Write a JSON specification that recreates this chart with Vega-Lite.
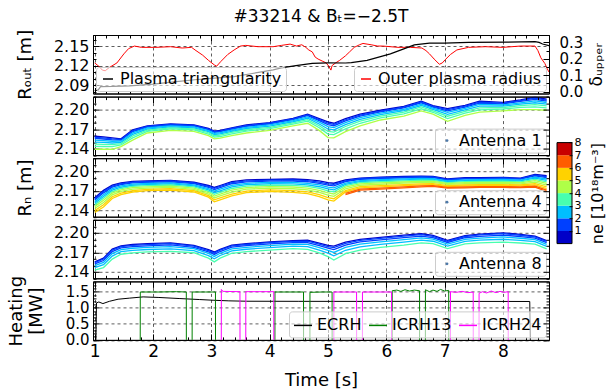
{
"$schema": "https://vega.github.io/schema/vega-lite/v6.json",
"padding": {"left": 6, "top": 7, "right": 0, "bottom": 0},
"background": "white",
"config": {
  "font": "DejaVu Sans",
  "view": {"stroke": "black", "strokeWidth": 1},
  "axis": {"labelFont": "DejaVu Sans", "titleFont": "DejaVu Sans", "labelFontSize": 16, "titleFontSize": 18, "titleFontWeight": "normal", "labelColor": "black", "titleColor": "black", "tickColor": "black", "domainColor": "black", "gridColor": "black", "gridDash": [3, 3], "gridWidth": 0.8, "labelOverlap": false, "labelFlush": false, "tickWidth": 1, "domainWidth": 1},
  "legend": {"labelFont": "DejaVu Sans", "labelFontSize": 16, "labelColor": "black", "padding": 4, "offset": 3, "fillColor": "rgba(255,255,255,0.6)", "strokeColor": "#cccccc", "cornerRadius": 3, "labelLimit": 400, "symbolStrokeWidth": 1.5, "symbolSize": 100}
},
"datasets": {
  "rout": [
    {"t":1.0,"r":2.124},{"t":1.04,"r":2.121},{"t":1.08,"r":2.118},{"t":1.13,"r":2.113},{"t":1.18,"r":2.112},{"t":1.25,"r":2.117},{"t":1.38,"r":2.124},{"t":1.5,"r":2.138},{"t":1.58,"r":2.146},{"t":1.68,"r":2.15},{"t":1.8,"r":2.148},{"t":2.05,"r":2.148},{"t":2.3,"r":2.149},{"t":2.5,"r":2.147},{"t":2.66,"r":2.148},{"t":2.72,"r":2.144},{"t":2.85,"r":2.136},{"t":2.95,"r":2.128},{"t":3.05,"r":2.121},{"t":3.09,"r":2.119},{"t":3.16,"r":2.126},{"t":3.28,"r":2.137},{"t":3.39,"r":2.144},{"t":3.5,"r":2.15},{"t":3.59,"r":2.151},{"t":3.8,"r":2.149},{"t":4.06,"r":2.149},{"t":4.2,"r":2.151},{"t":4.35,"r":2.153},{"t":4.46,"r":2.15},{"t":4.55,"r":2.152},{"t":4.62,"r":2.148},{"t":4.67,"r":2.144},{"t":4.73,"r":2.141},{"t":4.78,"r":2.133},{"t":4.83,"r":2.13},{"t":4.9,"r":2.127},{"t":4.97,"r":2.124},{"t":5.02,"r":2.118},{"t":5.05,"r":2.113},{"t":5.07,"r":2.12},{"t":5.13,"r":2.124},{"t":5.2,"r":2.128},{"t":5.3,"r":2.135},{"t":5.37,"r":2.141},{"t":5.45,"r":2.148},{"t":5.54,"r":2.152},{"t":5.6,"r":2.154},{"t":5.74,"r":2.152},{"t":5.85,"r":2.15},{"t":5.94,"r":2.15},{"t":6.2,"r":2.148},{"t":6.41,"r":2.148},{"t":6.61,"r":2.147},{"t":6.68,"r":2.143},{"t":6.74,"r":2.138},{"t":6.82,"r":2.13},{"t":6.91,"r":2.122},{"t":6.96,"r":2.124},{"t":7.01,"r":2.129},{"t":7.1,"r":2.137},{"t":7.21,"r":2.144},{"t":7.41,"r":2.148},{"t":7.7,"r":2.149},{"t":8.0,"r":2.148},{"t":8.3,"r":2.15},{"t":8.55,"r":2.15},{"t":8.6,"r":2.143},{"t":8.65,"r":2.132},{"t":8.72,"r":2.123},{"t":8.76,"r":2.115},{"t":8.79,"r":2.11}
  ],
  "delta": [
    {"t":1.0,"d":0.005},{"t":1.06,"d":0.01},{"t":1.1,"d":0.03},{"t":1.3,"d":0.031},{"t":1.6,"d":0.035},{"t":2.0,"d":0.045},{"t":2.4,"d":0.06},{"t":2.72,"d":0.072},{"t":3.0,"d":0.08},{"t":3.39,"d":0.091},{"t":3.7,"d":0.11},{"t":4.06,"d":0.132},{"t":4.2,"d":0.144},{"t":4.45,"d":0.158},{"t":4.73,"d":0.172},{"t":5.0,"d":0.175},{"t":5.3,"d":0.174},{"t":5.4,"d":0.176},{"t":5.67,"d":0.19},{"t":6.07,"d":0.23},{"t":6.3,"d":0.26},{"t":6.48,"d":0.285},{"t":6.74,"d":0.295},{"t":7.0,"d":0.296},{"t":7.41,"d":0.3},{"t":8.08,"d":0.301},{"t":8.55,"d":0.305},{"t":8.62,"d":0.3},{"t":8.68,"d":0.29},{"t":8.79,"d":0.28}
  ],
  "a1": [
    {"t":1.0,"n05":2.159,"n10":2.1574,"n15":2.1556,"n20":2.153,"n25":2.15,"n30":2.147,"n35":2.1434,"n40":2.139},
    {"t":1.15,"n05":2.158,"n10":2.1565,"n15":2.1548,"n20":2.1523,"n25":2.1495,"n30":2.1466,"n35":2.1432,"n40":2.139},
    {"t":1.3,"n05":2.1565,"n10":2.1551,"n15":2.1535,"n20":2.1513,"n25":2.1486,"n30":2.146,"n35":2.1429,"n40":2.139},
    {"t":1.45,"n05":2.155,"n10":2.154,"n15":2.153,"n20":2.1514,"n25":2.1496,"n30":2.1478,"n35":2.1456,"n40":2.143},
    {"t":1.65,"n05":2.169,"n10":2.1677,"n15":2.1663,"n20":2.1642,"n25":2.1618,"n30":2.1594,"n35":2.1565,"n40":2.153},
    {"t":1.9,"n05":2.175,"n10":2.1741,"n15":2.1731,"n20":2.1717,"n25":2.17,"n30":2.1684,"n35":2.1664,"n40":2.164},
    {"t":2.3,"n05":2.178,"n10":2.1772,"n15":2.1763,"n20":2.175,"n25":2.1735,"n30":2.172,"n35":2.1702,"n40":2.168},
    {"t":2.7,"n05":2.1765,"n10":2.1757,"n15":2.1748,"n20":2.1735,"n25":2.172,"n30":2.1705,"n35":2.1687,"n40":2.1665},
    {"t":2.95,"n05":2.171,"n10":2.1701,"n15":2.1691,"n20":2.1677,"n25":2.166,"n30":2.1644,"n35":2.1624,"n40":2.16},
    {"t":3.05,"n05":2.167,"n10":2.166,"n15":2.165,"n20":2.1634,"n25":2.1616,"n30":2.1598,"n35":2.1576,"n40":2.155},
    {"t":3.15,"n05":2.168,"n10":2.167,"n15":2.166,"n20":2.1644,"n25":2.1626,"n30":2.1608,"n35":2.1586,"n40":2.156},
    {"t":3.35,"n05":2.172,"n10":2.171,"n15":2.17,"n20":2.1684,"n25":2.1666,"n30":2.1648,"n35":2.1626,"n40":2.16},
    {"t":3.6,"n05":2.1765,"n10":2.1755,"n15":2.1744,"n20":2.1728,"n25":2.1709,"n30":2.169,"n35":2.1668,"n40":2.164},
    {"t":4.0,"n05":2.18,"n10":2.179,"n15":2.178,"n20":2.1764,"n25":2.1746,"n30":2.1728,"n35":2.1706,"n40":2.168},
    {"t":4.4,"n05":2.1865,"n10":2.1856,"n15":2.1845,"n20":2.1831,"n25":2.1813,"n30":2.1796,"n35":2.1775,"n40":2.175},
    {"t":4.65,"n05":2.193,"n10":2.1919,"n15":2.1906,"n20":2.1888,"n25":2.1867,"n30":2.1846,"n35":2.1821,"n40":2.179},
    {"t":4.85,"n05":2.186,"n10":2.1846,"n15":2.1829,"n20":2.1806,"n25":2.1779,"n30":2.1752,"n35":2.172,"n40":2.168},
    {"t":5.0,"n05":2.181,"n10":2.1791,"n15":2.1769,"n20":2.1738,"n25":2.1702,"n30":2.1666,"n35":2.1623,"n40":2.157},
    {"t":5.1,"n05":2.179,"n10":2.1772,"n15":2.1752,"n20":2.1723,"n25":2.1689,"n30":2.1655,"n35":2.1615,"n40":2.1565},
    {"t":5.3,"n05":2.186,"n10":2.1844,"n15":2.1826,"n20":2.18,"n25":2.177,"n30":2.174,"n35":2.1704,"n40":2.166},
    {"t":5.55,"n05":2.193,"n10":2.1916,"n15":2.1899,"n20":2.1876,"n25":2.1849,"n30":2.1822,"n35":2.179,"n40":2.175},
    {"t":5.9,"n05":2.199,"n10":2.1978,"n15":2.1965,"n20":2.1945,"n25":2.1923,"n30":2.19,"n35":2.1873,"n40":2.184},
    {"t":6.3,"n05":2.205,"n10":2.2038,"n15":2.2025,"n20":2.2005,"n25":2.1983,"n30":2.196,"n35":2.1933,"n40":2.19},
    {"t":6.6,"n05":2.213,"n10":2.2118,"n15":2.2105,"n20":2.2085,"n25":2.2063,"n30":2.204,"n35":2.2013,"n40":2.198},
    {"t":6.8,"n05":2.206,"n10":2.205,"n15":2.2038,"n20":2.2021,"n25":2.2002,"n30":2.1982,"n35":2.1959,"n40":2.193},
    {"t":7.05,"n05":2.2015,"n10":2.1999,"n15":2.1982,"n20":2.1957,"n25":2.1927,"n30":2.1898,"n35":2.1863,"n40":2.182},
    {"t":7.35,"n05":2.2065,"n10":2.2053,"n15":2.2039,"n20":2.2019,"n25":2.1995,"n30":2.1972,"n35":2.1944,"n40":2.191},
    {"t":7.6,"n05":2.213,"n10":2.2116,"n15":2.2101,"n20":2.2079,"n25":2.2054,"n30":2.2028,"n35":2.1997,"n40":2.196},
    {"t":8.0,"n05":2.211,"n10":2.21,"n15":2.2088,"n20":2.2071,"n25":2.2052,"n30":2.2032,"n35":2.2009,"n40":2.198},
    {"t":8.3,"n05":2.215,"n10":2.2138,"n15":2.2125,"n20":2.2105,"n25":2.2083,"n30":2.206,"n35":2.2033,"n40":2.2},
    {"t":8.55,"n05":2.219,"n10":2.2175,"n15":2.2158,"n20":2.2133,"n25":2.2105,"n30":2.2076,"n35":2.2042,"n40":2.2},
    {"t":8.75,"n05":2.216,"n10":2.2146,"n15":2.2131,"n20":2.2109,"n25":2.2084,"n30":2.2058,"n35":2.2027,"n40":2.199}
  ],
  "a4": [
    {"t":1.0,"n05":2.159,"n10":2.1574,"n15":2.1556,"n22":2.1532,"n28":2.1507,"n34":2.1482,"n40":2.1455,"n46":2.1426,"n52":2.1394,"n57":2.1365},
    {"t":1.15,"n05":2.1705,"n10":2.1687,"n15":2.1667,"n22":2.1639,"n28":2.1611,"n34":2.1583,"n40":2.1552,"n46":2.1519,"n52":2.1483,"n57":2.145},
    {"t":1.3,"n05":2.1785,"n10":2.1771,"n15":2.1754,"n22":2.1732,"n28":2.1709,"n34":2.1687,"n40":2.1662,"n46":2.1635,"n52":2.1607,"n57":2.158},
    {"t":1.45,"n05":2.182,"n10":2.1807,"n15":2.1793,"n22":2.1773,"n28":2.1753,"n34":2.1734,"n40":2.1712,"n46":2.1689,"n52":2.1663,"n57":2.164},
    {"t":1.65,"n05":2.1845,"n10":2.1833,"n15":2.182,"n22":2.1802,"n28":2.1784,"n34":2.1766,"n40":2.1746,"n46":2.1725,"n52":2.1701,"n57":2.168},
    {"t":1.9,"n05":2.185,"n10":2.184,"n15":2.1828,"n22":2.1811,"n28":2.1795,"n34":2.1778,"n40":2.176,"n46":2.174,"n52":2.172,"n57":2.17},
    {"t":2.3,"n05":2.186,"n10":2.185,"n15":2.1838,"n22":2.1821,"n28":2.1805,"n34":2.1788,"n40":2.177,"n46":2.175,"n52":2.173,"n57":2.171},
    {"t":2.7,"n05":2.183,"n10":2.182,"n15":2.1808,"n22":2.1791,"n28":2.1775,"n34":2.1758,"n40":2.174,"n46":2.172,"n52":2.17,"n57":2.168},
    {"t":2.95,"n05":2.178,"n10":2.1767,"n15":2.1753,"n22":2.1733,"n28":2.1713,"n34":2.1694,"n40":2.1672,"n46":2.1649,"n52":2.1623,"n57":2.16},
    {"t":3.05,"n05":2.175,"n10":2.1735,"n15":2.1717,"n22":2.1693,"n28":2.1669,"n34":2.1644,"n40":2.1618,"n46":2.1589,"n52":2.1559,"n57":2.153},
    {"t":3.15,"n05":2.178,"n10":2.1765,"n15":2.1747,"n22":2.1723,"n28":2.1699,"n34":2.1674,"n40":2.1648,"n46":2.1619,"n52":2.1589,"n57":2.156},
    {"t":3.35,"n05":2.184,"n10":2.1825,"n15":2.1807,"n22":2.1783,"n28":2.1759,"n34":2.1734,"n40":2.1708,"n46":2.1679,"n52":2.1649,"n57":2.162},
    {"t":3.6,"n05":2.1865,"n10":2.1851,"n15":2.1836,"n22":2.1814,"n28":2.1793,"n34":2.1771,"n40":2.1748,"n46":2.1723,"n52":2.1695,"n57":2.167},
    {"t":4.0,"n05":2.1875,"n10":2.1862,"n15":2.1847,"n22":2.1827,"n28":2.1807,"n34":2.1786,"n40":2.1764,"n46":2.174,"n52":2.1714,"n57":2.169},
    {"t":4.4,"n05":2.188,"n10":2.1866,"n15":2.1849,"n22":2.1827,"n28":2.1804,"n34":2.1782,"n40":2.1757,"n46":2.173,"n52":2.1702,"n57":2.1675},
    {"t":4.65,"n05":2.187,"n10":2.1855,"n15":2.1838,"n22":2.1814,"n28":2.179,"n34":2.1767,"n40":2.1741,"n46":2.1713,"n52":2.1683,"n57":2.1655},
    {"t":4.85,"n05":2.185,"n10":2.1833,"n15":2.1814,"n22":2.1788,"n28":2.1761,"n34":2.1735,"n40":2.1706,"n46":2.1675,"n52":2.1641,"n57":2.161},
    {"t":5.0,"n05":2.1825,"n10":2.1806,"n15":2.1785,"n22":2.1756,"n28":2.1727,"n34":2.1698,"n40":2.1666,"n46":2.1632,"n52":2.1594,"n57":2.156},
    {"t":5.1,"n05":2.1815,"n10":2.1796,"n15":2.1774,"n22":2.1744,"n28":2.1713,"n34":2.1683,"n40":2.165,"n46":2.1614,"n52":2.1576,"n57":2.154},
    {"t":5.3,"n05":2.1865,"n10":2.1852,"n15":2.1838,"n22":2.1818,"n28":2.1798,"n34":2.1777,"n40":2.1755,"n46":2.173,"n52":2.1703,"n57":2.1681,"n62":2.1658,"n66":2.164},
    {"t":5.55,"n05":2.1895,"n10":2.1884,"n15":2.1873,"n22":2.1856,"n28":2.184,"n34":2.1823,"n40":2.1804,"n46":2.1784,"n52":2.1762,"n57":2.1743,"n62":2.1725,"n66":2.171},
    {"t":5.9,"n05":2.191,"n10":2.1899,"n15":2.1888,"n22":2.1871,"n28":2.1855,"n34":2.1838,"n40":2.1819,"n46":2.1799,"n52":2.1777,"n57":2.1758,"n62":2.174,"n66":2.1725},
    {"t":6.3,"n05":2.192,"n10":2.191,"n15":2.1899,"n22":2.1883,"n28":2.1868,"n34":2.1852,"n40":2.1834,"n46":2.1815,"n52":2.1794,"n57":2.1777,"n62":2.1759,"n66":2.1745},
    {"t":6.6,"n05":2.1925,"n10":2.1915,"n15":2.1905,"n22":2.189,"n28":2.1876,"n34":2.1861,"n40":2.1844,"n46":2.1826,"n52":2.1806,"n57":2.179,"n62":2.1773,"n66":2.176},
    {"t":6.8,"n05":2.192,"n10":2.1911,"n15":2.1901,"n22":2.1887,"n28":2.1874,"n34":2.186,"n40":2.1844,"n46":2.1827,"n52":2.1808,"n57":2.1793,"n62":2.1777,"n66":2.1765},
    {"t":7.05,"n05":2.188,"n10":2.1872,"n15":2.1863,"n22":2.1851,"n28":2.1838,"n34":2.1825,"n40":2.1811,"n46":2.1796,"n52":2.1779,"n57":2.1765,"n62":2.1751,"n66":2.174},
    {"t":7.35,"n05":2.19,"n10":2.1891,"n15":2.1881,"n22":2.1867,"n28":2.1854,"n34":2.184,"n40":2.1824,"n46":2.1807,"n52":2.1788,"n57":2.1773,"n62":2.1757,"n66":2.1745},
    {"t":7.6,"n05":2.19,"n10":2.1891,"n15":2.1882,"n22":2.1869,"n28":2.1855,"n34":2.1842,"n40":2.1827,"n46":2.181,"n52":2.1792,"n57":2.1777,"n62":2.1762,"n66":2.175},
    {"t":8.0,"n05":2.1905,"n10":2.1896,"n15":2.1886,"n22":2.1873,"n28":2.1859,"n34":2.1845,"n40":2.1829,"n46":2.1812,"n52":2.1793,"n57":2.1778,"n62":2.1762,"n66":2.175},
    {"t":8.3,"n05":2.1895,"n10":2.1886,"n15":2.1877,"n22":2.1864,"n28":2.185,"n34":2.1837,"n40":2.1822,"n46":2.1806,"n52":2.1788,"n57":2.1774,"n62":2.176,"n66":2.1748},
    {"t":8.55,"n05":2.195,"n10":2.1938,"n15":2.1927,"n22":2.1909,"n28":2.1892,"n34":2.1874,"n40":2.1854,"n46":2.1833,"n52":2.181,"n57":2.179,"n62":2.1771,"n66":2.1755},
    {"t":8.75,"n05":2.193,"n10":2.1916,"n15":2.1901,"n22":2.188,"n28":2.1858,"n34":2.1836,"n40":2.1812,"n46":2.1786,"n52":2.1757,"n57":2.1733,"n62":2.1709,"n66":2.169}
  ],
  "a8": [
    {"t":1.0,"n05":2.1553,"n10":2.154,"n15":2.1521,"n20":2.1495,"n25":2.1463,"n32":2.1425},
    {"t":1.15,"n05":2.161,"n10":2.1596,"n15":2.1574,"n20":2.1545,"n25":2.1509,"n32":2.1465},
    {"t":1.3,"n05":2.175,"n10":2.1735,"n15":2.1711,"n20":2.168,"n25":2.1642,"n32":2.1595},
    {"t":1.45,"n05":2.18,"n10":2.1787,"n15":2.1768,"n20":2.1742,"n25":2.1709,"n32":2.167},
    {"t":1.65,"n05":2.182,"n10":2.1807,"n15":2.1788,"n20":2.1762,"n25":2.1729,"n32":2.169},
    {"t":1.9,"n05":2.1832,"n10":2.1819,"n15":2.18,"n20":2.1775,"n25":2.1743,"n32":2.1705},
    {"t":2.3,"n05":2.1845,"n10":2.1832,"n15":2.1813,"n20":2.1787,"n25":2.1754,"n32":2.1715},
    {"t":2.7,"n05":2.1805,"n10":2.1794,"n15":2.1777,"n20":2.1755,"n25":2.1727,"n32":2.1693},
    {"t":2.95,"n05":2.174,"n10":2.1727,"n15":2.1708,"n20":2.1682,"n25":2.1649,"n32":2.161},
    {"t":3.05,"n05":2.1705,"n10":2.169,"n15":2.1667,"n20":2.1637,"n25":2.1599,"n32":2.1553},
    {"t":3.15,"n05":2.1746,"n10":2.1732,"n15":2.1712,"n20":2.1685,"n25":2.1651,"n32":2.161},
    {"t":3.35,"n05":2.181,"n10":2.1798,"n15":2.1779,"n20":2.1754,"n25":2.1723,"n32":2.1685},
    {"t":3.6,"n05":2.1832,"n10":2.182,"n15":2.1802,"n20":2.1777,"n25":2.1747,"n32":2.171},
    {"t":4.0,"n05":2.186,"n10":2.1848,"n15":2.1829,"n20":2.1804,"n25":2.1773,"n32":2.1735},
    {"t":4.4,"n05":2.188,"n10":2.1868,"n15":2.185,"n20":2.1825,"n25":2.1795,"n32":2.1758},
    {"t":4.65,"n05":2.1885,"n10":2.1871,"n15":2.185,"n20":2.1822,"n25":2.1787,"n32":2.1745},
    {"t":4.85,"n05":2.184,"n10":2.1825,"n15":2.1803,"n20":2.1773,"n25":2.1735,"n32":2.169},
    {"t":5.0,"n05":2.1805,"n10":2.1788,"n15":2.1763,"n20":2.1729,"n25":2.1686,"n32":2.1635},
    {"t":5.1,"n05":2.1795,"n10":2.1774,"n15":2.1741,"n20":2.1698,"n25":2.1645,"n32":2.158},
    {"t":5.3,"n05":2.1855,"n10":2.1837,"n15":2.1811,"n20":2.1775,"n25":2.1731,"n32":2.1678},
    {"t":5.55,"n05":2.19,"n10":2.1884,"n15":2.1859,"n20":2.1826,"n25":2.1785,"n32":2.1735},
    {"t":5.9,"n05":2.193,"n10":2.1915,"n15":2.1891,"n20":2.186,"n25":2.1822,"n32":2.1775},
    {"t":6.3,"n05":2.1965,"n10":2.195,"n15":2.1926,"n20":2.1895,"n25":2.1857,"n32":2.181},
    {"t":6.6,"n05":2.1985,"n10":2.1971,"n15":2.195,"n20":2.1922,"n25":2.1887,"n32":2.1845},
    {"t":6.8,"n05":2.1959,"n10":2.1946,"n15":2.1927,"n20":2.1902,"n25":2.187,"n32":2.1832},
    {"t":7.05,"n05":2.1883,"n10":2.187,"n15":2.1851,"n20":2.1826,"n25":2.1794,"n32":2.1756},
    {"t":7.35,"n05":2.1955,"n10":2.1943,"n15":2.1924,"n20":2.1899,"n25":2.1868,"n32":2.183},
    {"t":7.6,"n05":2.198,"n10":2.1967,"n15":2.1946,"n20":2.1919,"n25":2.1886,"n32":2.1845},
    {"t":8.0,"n05":2.2,"n10":2.1986,"n15":2.1965,"n20":2.1936,"n25":2.1901,"n32":2.1858},
    {"t":8.3,"n05":2.1975,"n10":2.1962,"n15":2.1942,"n20":2.1916,"n25":2.1883,"n32":2.1843},
    {"t":8.55,"n05":2.195,"n10":2.1938,"n15":2.1919,"n20":2.1894,"n25":2.1863,"n32":2.1825},
    {"t":8.75,"n05":2.188,"n10":2.1867,"n15":2.1848,"n20":2.1822,"n25":2.179,"n32":2.1752}
  ],
  "heat": [
    {"s":"ECRH","g":0,"t":1.02,"p":0},{"s":"ECRH","g":0,"t":1.03,"p":1.15},{"s":"ECRH","g":0,"t":1.07,"p":1.18},{"s":"ECRH","g":0,"t":1.14,"p":1.13},{"s":"ECRH","g":0,"t":1.25,"p":1.2},{"s":"ECRH","g":0,"t":1.4,"p":1.266},{"s":"ECRH","g":0,"t":1.6,"p":1.3},{"s":"ECRH","g":0,"t":1.83,"p":1.338},{"s":"ECRH","g":0,"t":2.1,"p":1.32},{"s":"ECRH","g":0,"t":2.46,"p":1.286},{"s":"ECRH","g":0,"t":2.8,"p":1.255},{"s":"ECRH","g":0,"t":3.03,"p":1.234},{"s":"ECRH","g":0,"t":3.3,"p":1.215},{"s":"ECRH","g":0,"t":3.6,"p":1.203},{"s":"ECRH","g":0,"t":4.5,"p":1.2},{"s":"ECRH","g":0,"t":5.5,"p":1.198},{"s":"ECRH","g":0,"t":6.5,"p":1.2},{"s":"ECRH","g":0,"t":7.5,"p":1.198},{"s":"ECRH","g":0,"t":8.46,"p":1.195},{"s":"ECRH","g":0,"t":8.47,"p":0},
    {"s":"ICRH13","g":1,"t":1.78,"p":0},{"s":"ICRH13","g":1,"t":1.781,"p":1.49},{"s":"ICRH13","g":1,"t":2.1,"p":1.49},{"s":"ICRH13","g":1,"t":2.4,"p":1.5},{"s":"ICRH13","g":1,"t":2.57,"p":1.49},{"s":"ICRH13","g":1,"t":2.571,"p":0},
    {"s":"ICRH13","g":2,"t":2.67,"p":0},{"s":"ICRH13","g":2,"t":2.671,"p":1.49},{"s":"ICRH13","g":2,"t":2.9,"p":1.49},{"s":"ICRH13","g":2,"t":3.07,"p":1.49},{"s":"ICRH13","g":2,"t":3.071,"p":0},
    {"s":"ICRH13","g":3,"t":4.09,"p":0},{"s":"ICRH13","g":3,"t":4.091,"p":1.49},{"s":"ICRH13","g":3,"t":4.3,"p":1.49},{"s":"ICRH13","g":3,"t":4.58,"p":1.49},{"s":"ICRH13","g":3,"t":4.581,"p":0},
    {"s":"ICRH13","g":4,"t":4.69,"p":0},{"s":"ICRH13","g":4,"t":4.691,"p":1.48},{"s":"ICRH13","g":4,"t":4.9,"p":1.49},{"s":"ICRH13","g":4,"t":5.07,"p":1.49},{"s":"ICRH13","g":4,"t":5.071,"p":0},
    {"s":"ICRH13","g":5,"t":6.1,"p":0},{"s":"ICRH13","g":5,"t":6.101,"p":1.53},{"s":"ICRH13","g":5,"t":6.18,"p":1.55},{"s":"ICRH13","g":5,"t":6.25,"p":1.51},{"s":"ICRH13","g":5,"t":6.32,"p":1.56},{"s":"ICRH13","g":5,"t":6.4,"p":1.52},{"s":"ICRH13","g":5,"t":6.48,"p":1.55},{"s":"ICRH13","g":5,"t":6.57,"p":1.53},{"s":"ICRH13","g":5,"t":6.571,"p":0},
    {"s":"ICRH13","g":6,"t":6.67,"p":0},{"s":"ICRH13","g":6,"t":6.671,"p":1.56},{"s":"ICRH13","g":6,"t":6.74,"p":1.5},{"s":"ICRH13","g":6,"t":6.8,"p":1.55},{"s":"ICRH13","g":6,"t":6.87,"p":1.51},{"s":"ICRH13","g":6,"t":6.93,"p":1.57},{"s":"ICRH13","g":6,"t":7.0,"p":1.52},{"s":"ICRH13","g":6,"t":7.07,"p":1.54},{"s":"ICRH13","g":6,"t":7.071,"p":0},
    {"s":"ICRH24","g":7,"t":3.17,"p":0},{"s":"ICRH24","g":7,"t":3.171,"p":1.57},{"s":"ICRH24","g":7,"t":3.2,"p":1.51},{"s":"ICRH24","g":7,"t":3.49,"p":1.5},{"s":"ICRH24","g":7,"t":3.491,"p":0},
    {"s":"ICRH24","g":8,"t":3.59,"p":0},{"s":"ICRH24","g":8,"t":3.591,"p":1.5},{"s":"ICRH24","g":8,"t":3.8,"p":1.5},{"s":"ICRH24","g":8,"t":4.07,"p":1.5},{"s":"ICRH24","g":8,"t":4.071,"p":0},
    {"s":"ICRH24","g":9,"t":5.1,"p":0},{"s":"ICRH24","g":9,"t":5.101,"p":1.49},{"s":"ICRH24","g":9,"t":5.3,"p":1.49},{"s":"ICRH24","g":9,"t":5.49,"p":1.49},{"s":"ICRH24","g":9,"t":5.491,"p":0},
    {"s":"ICRH24","g":10,"t":5.59,"p":0},{"s":"ICRH24","g":10,"t":5.591,"p":1.49},{"s":"ICRH24","g":10,"t":5.8,"p":1.49},{"s":"ICRH24","g":10,"t":6.09,"p":1.49},{"s":"ICRH24","g":10,"t":6.091,"p":0},
    {"s":"ICRH24","g":11,"t":7.1,"p":0},{"s":"ICRH24","g":11,"t":7.101,"p":1.5},{"s":"ICRH24","g":11,"t":7.2,"p":1.48},{"s":"ICRH24","g":11,"t":7.3,"p":1.51},{"s":"ICRH24","g":11,"t":7.4,"p":1.47},{"s":"ICRH24","g":11,"t":7.49,"p":1.49},{"s":"ICRH24","g":11,"t":7.491,"p":0},
    {"s":"ICRH24","g":12,"t":7.59,"p":0},{"s":"ICRH24","g":12,"t":7.591,"p":1.45},{"s":"ICRH24","g":12,"t":7.65,"p":1.5},{"s":"ICRH24","g":12,"t":7.72,"p":1.46},{"s":"ICRH24","g":12,"t":7.8,"p":1.52},{"s":"ICRH24","g":12,"t":7.88,"p":1.47},{"s":"ICRH24","g":12,"t":7.95,"p":1.51},{"s":"ICRH24","g":12,"t":8.02,"p":1.48},{"s":"ICRH24","g":12,"t":8.09,"p":1.5},{"s":"ICRH24","g":12,"t":8.091,"p":0}
  ],
  "cbar": [
    {"lo":0,"hi":1,"key":"n05"},{"lo":1,"hi":2,"key":"n10"},{"lo":2,"hi":3,"key":"n20"},{"lo":3,"hi":4,"key":"n30"},{"lo":4,"hi":5,"key":"n40"},{"lo":5,"hi":6,"key":"n52"},{"lo":6,"hi":7,"key":"n62"},{"lo":7,"hi":8,"key":"n75"}
  ]
},
"spacing": 2.6,
"bounds": "flush",
"resolve": {"scale": {"color": "independent", "stroke": "independent", "shape": "independent"}},
"vconcat": [
  {
    "title": {"text": "#33214 & Bₜ=−2.5T", "fontSize": 17, "fontWeight": "normal", "font": "DejaVu Sans", "color": "black", "frame": "group", "anchor": "middle", "offset": 3},
    "width": 456, "height": 58.5,
    "layer": [
      {"data": {"name": "rout"}, "mark": {"type": "line", "strokeWidth": 1, "clip": true},
       "encoding": {
         "x": {"field": "t", "type": "quantitative", "scale": {"domain": [0.97, 8.79]}, "axis": {"orient": "bottom", "values": [1,1.2,1.4,1.6,1.8,2,2.2,2.4,2.6,2.8,3,3.2,3.4,3.6,3.8,4,4.2,4.4,4.6,4.8,5,5.2,5.4,5.6,5.8,6,6.2,6.4,6.6,6.8,7,7.2,7.4,7.6,7.8,8,8.2,8.4,8.6], "tickCount": 60, "labels": false, "title": null, "domain": true, "grid": true, "gridOpacity": {"condition": {"test": "abs(datum.value-round(datum.value))<0.01", "value": 0.8}, "value": 0}, "tickSize": {"condition": {"test": "abs(datum.value-round(datum.value))<0.01", "value": -6}, "value": -3}}},
         "y": {"field": "r", "type": "quantitative", "scale": {"domain": [2.077, 2.167]}, "axis": {"orient": "left", "values": [2.08,2.09,2.1,2.11,2.12,2.13,2.14,2.15,2.16], "tickCount": 20, "labelExpr": "round(datum.value*100)%3==2 ? format(datum.value,'.2f') : ''", "labelPadding": 10, "title": "Rₒᵤₜ [m]", "titlePadding": 19, "domain": true, "grid": true, "gridOpacity": {"condition": {"test": "round(datum.value*100)%3==2", "value": 0.8}, "value": 0}, "tickSize": {"condition": {"test": "round(datum.value*100)%3==2", "value": -6}, "value": -3}}},
         "stroke": {"datum": "Outer plasma radius", "scale": {"range": ["red"]}, "legend": {"orient": "bottom-right", "title": null}}
       }},
      {"data": {"name": "delta"}, "mark": {"type": "line", "strokeWidth": 1.2, "clip": true},
       "encoding": {
         "x": {"field": "t", "type": "quantitative", "scale": {"domain": [0.97, 8.79]}, "axis": {"orient": "top", "values": [1,1.2,1.4,1.6,1.8,2,2.2,2.4,2.6,2.8,3,3.2,3.4,3.6,3.8,4,4.2,4.4,4.6,4.8,5,5.2,5.4,5.6,5.8,6,6.2,6.4,6.6,6.8,7,7.2,7.4,7.6,7.8,8,8.2,8.4,8.6], "tickCount": 60, "labels": false, "title": null, "domain": true, "grid": false, "zindex": 1, "tickSize": {"condition": {"test": "abs(datum.value-round(datum.value))<0.01", "value": -6}, "value": -3}}},
         "y": {"field": "d", "type": "quantitative", "scale": {"domain": [-0.012, 0.345]}, "axis": {"orient": "right", "values": [0,0.05,0.1,0.15,0.2,0.25,0.3], "tickCount": 20, "labelExpr": "round(datum.value*100)%10==0 ? format(datum.value,'.1f') : ''", "labelPadding": 16, "labelFontSize": 15, "title": "δᵤₚₚₑᵣ", "titleFontSize": 17, "titleAngle": 270, "titleBaseline": "top", "titlePadding": 6, "domain": true, "grid": false, "zindex": 1, "tickSize": {"condition": {"test": "round(datum.value*100)%10==0", "value": -6}, "value": -3}}},
         "color": {"datum": "Plasma triangularity", "scale": {"range": ["black"]}, "legend": {"orient": "bottom-left", "title": null}}
       }}
    ],
    "resolve": {"scale": {"x": "independent", "y": "independent"}, "axis": {"x": "independent", "y": "independent"}}
  },
  {
    "data": {"name": "a1"},
    "width": 456, "height": 58.5,
    "layer": [
      {"transform": [{"fold": ["n05","n10","n15","n20","n25","n30","n35","n40"], "as": ["key", "r"]}],
       "mark": {"type": "line", "strokeWidth": 1.3, "clip": true},
       "encoding": {
         "x": {"field": "t", "type": "quantitative", "scale": {"domain": [0.97, 8.79]}, "axis": {"orient": "bottom", "values": [1,1.2,1.4,1.6,1.8,2,2.2,2.4,2.6,2.8,3,3.2,3.4,3.6,3.8,4,4.2,4.4,4.6,4.8,5,5.2,5.4,5.6,5.8,6,6.2,6.4,6.6,6.8,7,7.2,7.4,7.6,7.8,8,8.2,8.4,8.6], "tickCount": 60, "labels": false, "title": null, "domain": true, "grid": true, "gridOpacity": {"condition": {"test": "abs(datum.value-round(datum.value))<0.01", "value": 0.8}, "value": 0}, "tickSize": {"condition": {"test": "abs(datum.value-round(datum.value))<0.01", "value": -6}, "value": -3}}},
         "y": {"field": "r", "type": "quantitative", "scale": {"domain": [2.13, 2.22]}, "axis": {"orient": "left", "values": [2.13,2.14,2.15,2.16,2.17,2.18,2.19,2.2,2.21,2.22], "tickCount": 20, "labelExpr": "round(datum.value*100)%3==1 ? format(datum.value,'.2f') : ''", "labelPadding": 10, "title": null, "domain": true, "grid": true, "gridOpacity": {"condition": {"test": "round(datum.value*100)%3==1", "value": 0.8}, "value": 0}, "tickSize": {"condition": {"test": "round(datum.value*100)%3==1", "value": -6}, "value": -3}}},
         "color": {"field": "key", "type": "nominal", "scale": {"domain": ["n05","n10","n15","n20","n22","n25","n28","n30","n32","n34","n35","n40","n46","n52","n57","n62","n66","n75"], "range": ["#0000c8","#0040ff","#0040ff","#00bfff","#00bfff","#00bfff","#00bfff","#48ffaf","#48ffaf","#48ffaf","#48ffaf","#afff48","#afff48","#ffd200","#ffd200","#ff5c00","#ff5c00","#c80000"]}, "legend": null}
       }},
      {"mark": {"type": "point", "filled": true, "opacity": 0, "size": 1},
       "encoding": {
         "x": {"field": "t", "type": "quantitative", "scale": {"domain": [0.97, 8.79]}, "axis": {"orient": "top", "values": [1,1.2,1.4,1.6,1.8,2,2.2,2.4,2.6,2.8,3,3.2,3.4,3.6,3.8,4,4.2,4.4,4.6,4.8,5,5.2,5.4,5.6,5.8,6,6.2,6.4,6.6,6.8,7,7.2,7.4,7.6,7.8,8,8.2,8.4,8.6], "tickCount": 60, "labels": false, "title": null, "domain": true, "grid": false, "zindex": 1, "tickSize": {"condition": {"test": "abs(datum.value-round(datum.value))<0.01", "value": -6}, "value": -3}}},
         "y": {"field": "n05", "type": "quantitative", "scale": {"domain": [2.13, 2.22]}, "axis": {"orient": "right", "values": [2.13,2.14,2.15,2.16,2.17,2.18,2.19,2.2,2.21,2.22], "tickCount": 20, "labels": false, "title": null, "domain": true, "grid": false, "zindex": 1, "tickSize": {"condition": {"test": "round(datum.value*100)%3==1", "value": -6}, "value": -3}}},
         "shape": {"datum": "Antenna 1", "legend": {"orient": "bottom-right", "title": null, "symbolType": "circle", "symbolSize": 8, "symbolFillColor": "#0000c8", "symbolStrokeColor": "#0000c8", "symbolOpacity": 1}}
       }}
    ],
    "resolve": {"scale": {"x": "independent", "y": "independent"}, "axis": {"x": "independent", "y": "independent"}}
  },
  {
    "data": {"name": "a4"},
    "width": 456, "height": 58.5,
    "layer": [
      {"transform": [{"fold": ["n05","n10","n15","n22","n28","n34","n40","n46","n52","n57","n62","n66"], "as": ["key", "r"]}],
       "mark": {"type": "line", "strokeWidth": 1.3, "clip": true},
       "encoding": {
         "x": {"field": "t", "type": "quantitative", "scale": {"domain": [0.97, 8.79]}, "axis": {"orient": "bottom", "values": [1,1.2,1.4,1.6,1.8,2,2.2,2.4,2.6,2.8,3,3.2,3.4,3.6,3.8,4,4.2,4.4,4.6,4.8,5,5.2,5.4,5.6,5.8,6,6.2,6.4,6.6,6.8,7,7.2,7.4,7.6,7.8,8,8.2,8.4,8.6], "tickCount": 60, "labels": false, "title": null, "domain": true, "grid": true, "gridOpacity": {"condition": {"test": "abs(datum.value-round(datum.value))<0.01", "value": 0.8}, "value": 0}, "tickSize": {"condition": {"test": "abs(datum.value-round(datum.value))<0.01", "value": -6}, "value": -3}}},
         "y": {"field": "r", "type": "quantitative", "scale": {"domain": [2.13, 2.22]}, "axis": {"orient": "left", "values": [2.13,2.14,2.15,2.16,2.17,2.18,2.19,2.2,2.21,2.22], "tickCount": 20, "labelExpr": "round(datum.value*100)%3==1 ? format(datum.value,'.2f') : ''", "labelPadding": 10, "title": "Rₙ [m]", "titlePadding": 19, "domain": true, "grid": true, "gridOpacity": {"condition": {"test": "round(datum.value*100)%3==1", "value": 0.8}, "value": 0}, "tickSize": {"condition": {"test": "round(datum.value*100)%3==1", "value": -6}, "value": -3}}},
         "color": {"field": "key", "type": "nominal", "scale": {"domain": ["n05","n10","n15","n20","n22","n25","n28","n30","n32","n34","n35","n40","n46","n52","n57","n62","n66","n75"], "range": ["#0000c8","#0040ff","#0040ff","#00bfff","#00bfff","#00bfff","#00bfff","#48ffaf","#48ffaf","#48ffaf","#48ffaf","#afff48","#afff48","#ffd200","#ffd200","#ff5c00","#ff5c00","#c80000"]}, "legend": null}
       }},
      {"mark": {"type": "point", "filled": true, "opacity": 0, "size": 1},
       "encoding": {
         "x": {"field": "t", "type": "quantitative", "scale": {"domain": [0.97, 8.79]}, "axis": {"orient": "top", "values": [1,1.2,1.4,1.6,1.8,2,2.2,2.4,2.6,2.8,3,3.2,3.4,3.6,3.8,4,4.2,4.4,4.6,4.8,5,5.2,5.4,5.6,5.8,6,6.2,6.4,6.6,6.8,7,7.2,7.4,7.6,7.8,8,8.2,8.4,8.6], "tickCount": 60, "labels": false, "title": null, "domain": true, "grid": false, "zindex": 1, "tickSize": {"condition": {"test": "abs(datum.value-round(datum.value))<0.01", "value": -6}, "value": -3}}},
         "y": {"field": "n05", "type": "quantitative", "scale": {"domain": [2.13, 2.22]}, "axis": {"orient": "right", "values": [2.13,2.14,2.15,2.16,2.17,2.18,2.19,2.2,2.21,2.22], "tickCount": 20, "labels": false, "title": null, "domain": true, "grid": false, "zindex": 1, "tickSize": {"condition": {"test": "round(datum.value*100)%3==1", "value": -6}, "value": -3}}},
         "shape": {"datum": "Antenna 4", "legend": {"orient": "bottom-right", "title": null, "symbolType": "circle", "symbolSize": 8, "symbolFillColor": "#0000c8", "symbolStrokeColor": "#0000c8", "symbolOpacity": 1}}
       }},
      {"data": {"name": "cbar"},
       "layer": [
         {"mark": {"type": "rect"},
          "encoding": {
            "x": {"datum": 0, "type": "quantitative", "scale": {"domain": [0, 1], "range": [464, 479]}, "axis": null},
            "x2": {"datum": 1},
            "y": {"field": "lo", "type": "quantitative", "scale": {"domain": [0, 8], "range": [85.4, -15.6]}, "axis": {"orient": "right", "offset": 23, "values": [1,2,3,4,5,6,7,8], "tickCount": 20, "format": "d", "labelFontSize": 11, "labelOverlap": false, "labelBound": false, "labelPadding": 5, "tickSize": -3, "domain": false, "grid": false, "title": "ne [10¹⁸m⁻³]", "titleFontSize": 16, "titleAngle": 270, "titleBaseline": "top", "titlePadding": 9, "zindex": 1}},
            "y2": {"field": "hi"},
            "color": {"field": "key", "type": "nominal", "legend": null}
          }},
         {"data": {"values": [{}]},
          "mark": {"type": "rect", "fill": null, "filled": false, "stroke": "black", "strokeWidth": 1},
          "encoding": {
            "x": {"datum": 0, "type": "quantitative"},
            "x2": {"datum": 1},
            "y": {"datum": 0, "type": "quantitative"},
            "y2": {"datum": 8}
          }}
       ]}
    ],
    "resolve": {"scale": {"x": "independent", "y": "independent"}, "axis": {"x": "independent", "y": "independent"}}
  },
  {
    "data": {"name": "a8"},
    "width": 456, "height": 58.5,
    "layer": [
      {"transform": [{"fold": ["n05","n10","n15","n20","n25","n32"], "as": ["key", "r"]}],
       "mark": {"type": "line", "strokeWidth": 1.3, "clip": true},
       "encoding": {
         "x": {"field": "t", "type": "quantitative", "scale": {"domain": [0.97, 8.79]}, "axis": {"orient": "bottom", "values": [1,1.2,1.4,1.6,1.8,2,2.2,2.4,2.6,2.8,3,3.2,3.4,3.6,3.8,4,4.2,4.4,4.6,4.8,5,5.2,5.4,5.6,5.8,6,6.2,6.4,6.6,6.8,7,7.2,7.4,7.6,7.8,8,8.2,8.4,8.6], "tickCount": 60, "labels": false, "title": null, "domain": true, "grid": true, "gridOpacity": {"condition": {"test": "abs(datum.value-round(datum.value))<0.01", "value": 0.8}, "value": 0}, "tickSize": {"condition": {"test": "abs(datum.value-round(datum.value))<0.01", "value": -6}, "value": -3}}},
         "y": {"field": "r", "type": "quantitative", "scale": {"domain": [2.13, 2.22]}, "axis": {"orient": "left", "values": [2.13,2.14,2.15,2.16,2.17,2.18,2.19,2.2,2.21,2.22], "tickCount": 20, "labelExpr": "round(datum.value*100)%3==1 ? format(datum.value,'.2f') : ''", "labelPadding": 10, "title": null, "domain": true, "grid": true, "gridOpacity": {"condition": {"test": "round(datum.value*100)%3==1", "value": 0.8}, "value": 0}, "tickSize": {"condition": {"test": "round(datum.value*100)%3==1", "value": -6}, "value": -3}}},
         "color": {"field": "key", "type": "nominal", "scale": {"domain": ["n05","n10","n15","n20","n22","n25","n28","n30","n32","n34","n35","n40","n46","n52","n57","n62","n66","n75"], "range": ["#0000c8","#0040ff","#0040ff","#00bfff","#00bfff","#00bfff","#00bfff","#48ffaf","#48ffaf","#48ffaf","#48ffaf","#afff48","#afff48","#ffd200","#ffd200","#ff5c00","#ff5c00","#c80000"]}, "legend": null}
       }},
      {"mark": {"type": "point", "filled": true, "opacity": 0, "size": 1},
       "encoding": {
         "x": {"field": "t", "type": "quantitative", "scale": {"domain": [0.97, 8.79]}, "axis": {"orient": "top", "values": [1,1.2,1.4,1.6,1.8,2,2.2,2.4,2.6,2.8,3,3.2,3.4,3.6,3.8,4,4.2,4.4,4.6,4.8,5,5.2,5.4,5.6,5.8,6,6.2,6.4,6.6,6.8,7,7.2,7.4,7.6,7.8,8,8.2,8.4,8.6], "tickCount": 60, "labels": false, "title": null, "domain": true, "grid": false, "zindex": 1, "tickSize": {"condition": {"test": "abs(datum.value-round(datum.value))<0.01", "value": -6}, "value": -3}}},
         "y": {"field": "n05", "type": "quantitative", "scale": {"domain": [2.13, 2.22]}, "axis": {"orient": "right", "values": [2.13,2.14,2.15,2.16,2.17,2.18,2.19,2.2,2.21,2.22], "tickCount": 20, "labels": false, "title": null, "domain": true, "grid": false, "zindex": 1, "tickSize": {"condition": {"test": "round(datum.value*100)%3==1", "value": -6}, "value": -3}}},
         "shape": {"datum": "Antenna 8", "legend": {"orient": "bottom-right", "title": null, "symbolType": "circle", "symbolSize": 8, "symbolFillColor": "#0000c8", "symbolStrokeColor": "#0000c8", "symbolOpacity": 1}}
       }}
    ],
    "resolve": {"scale": {"x": "independent", "y": "independent"}, "axis": {"x": "independent", "y": "independent"}}
  },
  {
    "data": {"name": "heat"},
    "width": 456, "height": 58.5,
    "layer": [
      {"mark": {"type": "line", "strokeWidth": 1, "clip": true},
       "encoding": {
         "x": {"field": "t", "type": "quantitative", "scale": {"domain": [0.97, 8.79]}, "axis": {"orient": "bottom", "values": [1,1.2,1.4,1.6,1.8,2,2.2,2.4,2.6,2.8,3,3.2,3.4,3.6,3.8,4,4.2,4.4,4.6,4.8,5,5.2,5.4,5.6,5.8,6,6.2,6.4,6.6,6.8,7,7.2,7.4,7.6,7.8,8,8.2,8.4,8.6], "tickCount": 60, "labels": true, "labelExpr": "abs(datum.value-round(datum.value))<0.01 ? format(datum.value,'d') : ''", "labelFontSize": 17, "labelPadding": 10, "title": "Time [s]", "titlePadding": 9, "domain": true, "grid": true, "gridOpacity": {"condition": {"test": "abs(datum.value-round(datum.value))<0.01", "value": 0.8}, "value": 0}, "tickSize": {"condition": {"test": "abs(datum.value-round(datum.value))<0.01", "value": -6}, "value": -3}}},
         "y": {"field": "p", "type": "quantitative", "scale": {"domain": [0, 1.82]}, "axis": {"orient": "left", "values": [0,0.1,0.2,0.3,0.4,0.5,0.6,0.7,0.8,0.9,1,1.1,1.2,1.3,1.4,1.5,1.6,1.7,1.8], "tickCount": 40, "labelExpr": "round(datum.value*10)%5==0 ? format(datum.value,'.1f') : ''", "labelFontSize": 15, "labelPadding": 10, "title": ["Heating", "[MW]"], "titleLineHeight": 20, "titlePadding": 20, "domain": true, "grid": true, "gridOpacity": {"condition": {"test": "round(datum.value*10)%5==0", "value": 0.8}, "value": 0}, "tickSize": {"condition": {"test": "round(datum.value*10)%5==0", "value": -6}, "value": -3}}},
         "color": {"field": "s", "type": "nominal", "scale": {"domain": ["ECRH", "ICRH13", "ICRH24"], "range": ["black", "green", "magenta"]}, "legend": {"orient": "bottom-right", "direction": "horizontal", "title": null, "symbolSize": 324, "labelOffset": 4, "columnPadding": 4}},
         "detail": {"field": "g"}
       }},
      {"mark": {"type": "point", "opacity": 0, "size": 1},
       "encoding": {
         "x": {"field": "t", "type": "quantitative", "scale": {"domain": [0.97, 8.79]}, "axis": {"orient": "top", "values": [1,1.2,1.4,1.6,1.8,2,2.2,2.4,2.6,2.8,3,3.2,3.4,3.6,3.8,4,4.2,4.4,4.6,4.8,5,5.2,5.4,5.6,5.8,6,6.2,6.4,6.6,6.8,7,7.2,7.4,7.6,7.8,8,8.2,8.4,8.6], "tickCount": 60, "labels": false, "title": null, "domain": true, "grid": false, "zindex": 1, "tickSize": {"condition": {"test": "abs(datum.value-round(datum.value))<0.01", "value": -6}, "value": -3}}},
         "y": {"field": "p", "type": "quantitative", "scale": {"domain": [0, 1.82]}, "axis": {"orient": "right", "values": [0,0.1,0.2,0.3,0.4,0.5,0.6,0.7,0.8,0.9,1,1.1,1.2,1.3,1.4,1.5,1.6,1.7,1.8], "tickCount": 40, "labels": false, "title": null, "domain": true, "grid": false, "zindex": 1, "tickSize": {"condition": {"test": "round(datum.value*10)%5==0", "value": -6}, "value": -3}}}
       }}
    ],
    "resolve": {"scale": {"x": "independent", "y": "independent"}, "axis": {"x": "independent", "y": "independent"}}
  }
]
}
